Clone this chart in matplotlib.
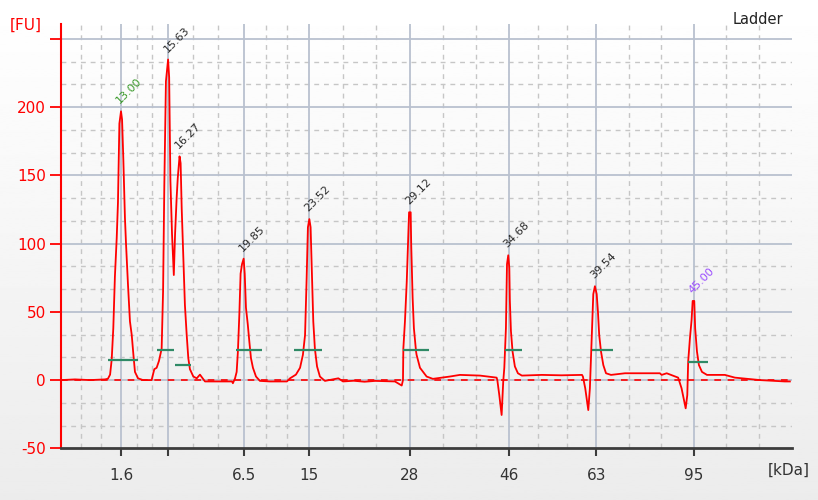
"""Ladder electropherogram (Bioanalyzer style)"""

import matplotlib
matplotlib.use('Agg')
import matplotlib.pyplot as plt
import numpy as np

# migration time (s) vs fluorescence (FU)
trace_t = [9.65, 10.43, 11.27, 12.11, 12.27, 12.39, 12.48, 12.57, 12.66, 12.76, 12.83, 12.91,
           13.00, 13.06, 13.13, 13.22, 13.28, 13.39, 13.50, 13.60, 13.69, 13.78, 13.95, 14.23,
           14.71, 14.86, 14.99, 15.12, 15.27, 15.35, 15.42, 15.51, 15.63, 15.69, 15.76, 15.85,
           15.95, 16.02, 16.11, 16.17, 16.27, 16.33, 16.37, 16.39, 16.48, 16.57, 16.67, 16.76,
           16.85, 17.04, 17.23, 17.41, 17.69, 19.20, 19.25, 19.37, 19.46, 19.53, 19.61, 19.68,
           19.76, 19.85, 19.91, 19.98, 20.08, 20.17, 20.26, 20.37, 20.54, 20.76, 21.32, 22.27,
           22.44, 22.77, 23.00, 23.16, 23.28, 23.37, 23.44, 23.52, 23.59, 23.67, 23.74, 23.83,
           23.95, 24.11, 24.39, 25.14, 25.40, 26.00, 26.60, 27.20, 27.80, 28.30, 28.68, 28.75,
           28.77, 28.86, 28.96, 29.03, 29.09, 29.18, 29.21, 29.29, 29.36, 29.48, 29.51, 29.70,
           30.07, 30.42, 31.37, 31.93, 33.05, 33.98, 34.02, 34.13, 34.26, 34.35, 34.41, 34.50,
           34.56, 34.63, 34.69, 34.72, 34.78, 34.87, 35.00, 35.17, 35.39, 36.50, 37.60, 38.75,
           38.80, 38.93, 39.10, 39.19, 39.29, 39.38, 39.47, 39.57, 39.64, 39.71, 39.81, 39.94,
           40.09, 40.37, 41.15, 43.10, 43.20, 43.48, 44.12, 44.31, 44.54, 44.63, 44.68, 44.78,
           44.87, 44.93, 45.02, 45.07, 45.17, 45.28, 45.45, 45.73, 46.73, 47.29, 48.69, 50.08,
           50.36]
trace_fu = [0, 0.5, 0, 0.5, 1, 4, 15, 38, 76, 104, 130, 188,
            197, 191, 162, 119, 100, 70, 43, 33, 19, 6, 1.3, 0,
            0, 8, 9, 14, 23, 65, 143, 219, 235, 222, 146, 107,
            77, 107, 134, 148, 164, 159, 136, 126, 90, 55, 33, 16,
            8, 2.6, 1.3, 4, -1, -1, -2.3, 1.3, 6, 21, 48, 78,
            85, 89, 78, 53, 41, 28, 16, 9, 2.6, -0.6, -1, -1,
            1.3, 4, 9, 18.5, 33, 75, 112, 118, 112, 75, 43, 23,
            10, 2.6, -0.6, 1.3, -1, -0.5, -1.2, -0.6, -0.8, -1, -4, 0,
            23, 43, 72, 99, 123, 123, 99, 60, 38, 21, 18.5, 9,
            2.6, 0.9, 2.6, 3.8, 3.3, 1.8, 0, -11, -25.6, -1, 9, 38,
            85, 91.5, 82, 58, 36, 21, 10, 5, 3.3, 3.8, 3.5, 3.8,
            2.6, -6, -22, -6, 31, 63, 68.8, 63, 50, 33, 21, 11,
            5, 3.8, 5, 5, 3.8, 5, 1.8, -6, -20.7, -11, 13.6, 31,
            44, 58, 58, 38, 21, 11, 6, 3.8, 3.8, 1.8, 0, -1,
            -1]

# ladder peaks -> kDa axis
ladder_t = [13.00, 15.63, 19.85, 23.52, 29.12, 34.68, 39.54, 45.00]
ladder_kda = ['1.6', '', '6.5', '15', '28', '46', '63', '95']
extra_minor_t = [10.77, 11.88]

# peak annotations
peak_t = [13.00, 15.63, 16.27, 19.85, 23.52, 29.12, 34.63, 39.47, 44.97]
peak_fu = [197, 235, 164, 89, 118, 123, 91.5, 69, 58]
peak_text = ['13.00', '15.63', '16.27', '19.85', '23.52', '29.12', '34.68', '39.54', '45.00']
peak_color = ['#3a9a2a', '#2a2a2a', '#2a2a2a', '#2a2a2a', '#2a2a2a', '#2a2a2a', '#2a2a2a',
              '#2a2a2a', '#9a4cff']

# peak width markers
width_t0 = [12.26, 14.99, 16.02, 19.42, 22.68, 28.77, 34.44, 39.29, 44.68]
width_t1 = [13.97, 15.96, 16.89, 20.87, 24.21, 30.20, 35.41, 40.49, 45.80]
width_fu = [14.9, 22, 11.2, 22, 22, 22, 22, 22, 13.4]

fig = plt.figure(figsize=(8.18, 5.0), dpi=100)

# light vertical gradient behind everything
bg = fig.add_axes([0, 0, 1, 1], zorder=-10)
grad = np.linspace(1.0, 0.925, 256).reshape(-1, 1)
bg.imshow(grad, aspect='auto', cmap='gray', vmin=0, vmax=1, extent=(0, 1, 0, 1))
bg.axis('off')

ax = fig.add_axes([0.0746, 0.1034, 0.8932, 0.8486])
ax.set_facecolor('none')
ax.set_xlim(9.65, 50.46)
ax.set_ylim(-50, 261)

# grid: solid at ladder / 50 FU, dashed at thirds
minor_x = list(extra_minor_t)
for a, b in zip(ladder_t[:-1], ladder_t[1:]):
    minor_x += [a + (b - a) / 3, a + 2 * (b - a) / 3]
step = (ladder_t[-1] - ladder_t[-2]) / 3
minor_x += [ladder_t[-1] + step, ladder_t[-1] + 2 * step]
major_y = [0, 50, 100, 150, 200, 250]
minor_y = [v + d for v in [-50] + major_y[:-1] for d in (50 / 3, 100 / 3)]

for x in minor_x:
    ax.axvline(x, color='#c6c6c6', lw=1.0, dashes=(3.5, 3.5), zorder=1)
for y in minor_y:
    ax.axhline(y, color='#c6c6c6', lw=1.0, dashes=(3.5, 3.5), zorder=1)
for x in ladder_t:
    ax.axvline(x, color='#b9c1cf', lw=1.3, zorder=1.5)
for y in major_y:
    ax.axhline(y, color='#b9c1cf', lw=1.3, zorder=1.5)

ax.axhline(0, color='red', lw=1.2, dashes=(4, 4), zorder=2)
ax.plot(trace_t, trace_fu, color='red', lw=1.3, zorder=3)
ax.hlines(width_fu, width_t0, width_t1, color='#2f8a66', lw=1.6, zorder=4)

for t, h, s, c in zip(peak_t, peak_fu, peak_text, peak_color):
    ax.annotate(s, (t, h), xytext=(0.5, 4), textcoords='offset points',
                rotation=45, rotation_mode='anchor', ha='left', va='bottom',
                fontsize=8, color=c, zorder=5)

# axes styling
for side in ('top', 'right'):
    ax.spines[side].set_visible(False)
ax.spines['left'].set_color('red')
ax.spines['left'].set_linewidth(1.5)
ax.spines['bottom'].set_color('#3c3c3c')
ax.spines['bottom'].set_linewidth(2)

ax.set_yticks([-50, 0, 50, 100, 150, 200, 250])
ax.set_yticklabels(['-50', '0', '50', '100', '150', '200', ''])
ax.tick_params(axis='y', colors='red', length=8, width=1.3, labelsize=11, pad=3)
ax.set_xticks(ladder_t)
ax.set_xticklabels(ladder_kda)
ax.tick_params(axis='x', colors='#3c3c3c', length=6, width=1.5, labelsize=11, pad=8,
               labelcolor='#333333')

fig.text(0.012, 0.95, '[FU]', color='red', fontsize=11, va='center', ha='left')
fig.text(0.99, 0.06, '[kDa]', color='#333333', fontsize=11, va='center', ha='right')
fig.text(0.958, 0.96, 'Ladder', color='#222222', fontsize=10.5, va='center', ha='right')

fig.savefig('out.png', dpi=100)
plt.close(fig)
